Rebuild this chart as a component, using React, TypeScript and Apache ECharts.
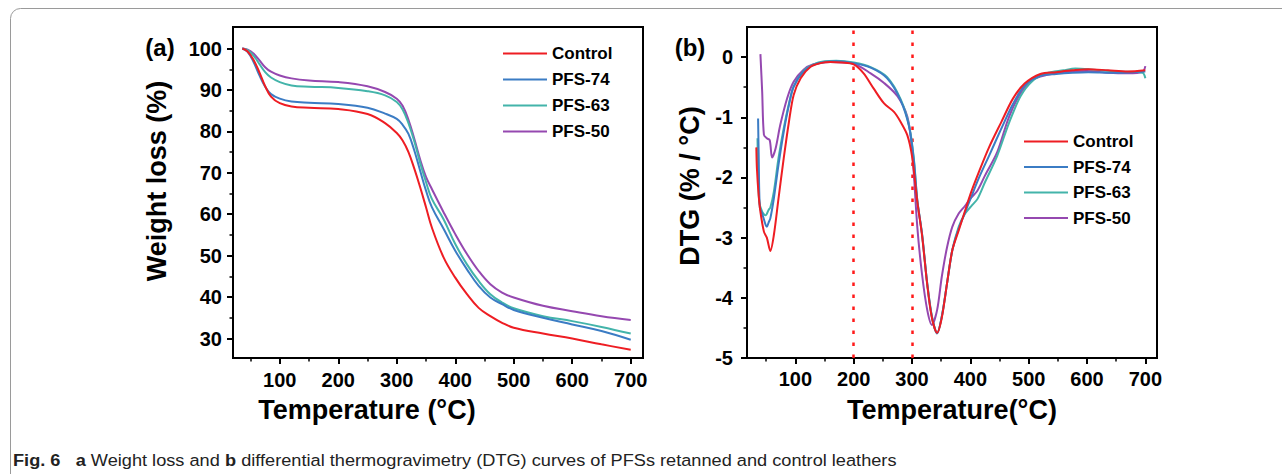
import React, { useEffect, useRef } from 'react';
import * as echarts from 'echarts';

// ---------- data ----------
const seriesNames = ['Control', 'PFS-74', 'PFS-63', 'PFS-50'];
const seriesColors = ['#ee1d23', '#3b7cc4', '#43b4aa', '#9548b0'];

// Panel (a) TGA
const tgaTemps = [36, 45, 55, 65, 75, 85, 100, 120, 150, 200, 250, 280, 300, 310, 320, 330, 340, 350, 360, 380, 400, 420, 440, 460, 480, 500, 550, 600, 650, 700];
const tgaControl = [100, 99.3, 97.3, 94.3, 90.9, 88.4, 86.8, 86.0, 85.7, 85.4, 84.2, 82.0, 79.6, 77.8, 75.0, 71.0, 66.5, 61.7, 56.8, 49.6, 44.7, 40.7, 37.4, 35.4, 33.8, 32.6, 31.2, 30.0, 28.6, 27.3];
const tgaPFS74 = [100, 99.2, 96.8, 93.6, 90.8, 89.0, 87.9, 87.2, 86.9, 86.6, 85.7, 84.3, 83.0, 81.6, 79.4, 75.4, 70.5, 65.7, 61.7, 56.5, 51.2, 46.7, 42.7, 39.9, 38.3, 36.9, 35.0, 33.4, 31.8, 29.7];
const tgaPFS63 = [100, 99.6, 98.3, 96.3, 94.3, 93.0, 91.9, 91.1, 90.8, 90.5, 89.7, 88.7, 87.1, 85.3, 82.0, 77.6, 72.4, 67.8, 63.7, 58.8, 52.8, 47.9, 43.9, 40.7, 38.7, 37.3, 35.4, 34.2, 32.8, 31.2];
const tgaPFS50 = [100, 99.7, 98.8, 97.2, 95.5, 94.4, 93.5, 92.8, 92.3, 91.9, 90.9, 89.5, 87.9, 86.2, 82.8, 78.2, 73.2, 69.0, 66.1, 60.5, 55.2, 50.4, 46.3, 43.1, 41.1, 39.9, 37.9, 36.6, 35.4, 34.5];

// Panel (b) DTG
const dtgControlT = [33, 34, 37, 40, 46, 51, 57, 63, 71, 80, 89, 97, 109, 126, 143, 160, 180, 200, 217, 234, 252, 269, 280, 292, 300, 309, 317, 326, 334, 343, 351, 360, 369, 380, 391, 400, 415, 432, 453, 473, 493, 520, 547, 575, 602, 636, 670, 700];
const dtgControlV = [-1.5, -1.85, -2.3, -2.57, -2.9, -3.0, -3.22, -2.96, -2.35, -1.68, -1.07, -0.63, -0.35, -0.16, -0.1, -0.08, -0.09, -0.12, -0.27, -0.52, -0.77, -0.91, -1.07, -1.3, -1.65, -2.4, -2.95, -3.78, -4.33, -4.58, -4.33, -3.76, -3.21, -2.88, -2.55, -2.28, -1.9, -1.5, -1.08, -0.69, -0.44, -0.28, -0.25, -0.22, -0.2, -0.22, -0.24, -0.22];
const dtgPFS74T = [36, 37, 39, 43, 49, 51, 54, 57, 63, 71, 80, 89, 97, 114, 131, 150, 170, 200, 230, 257, 280, 295, 303, 309, 317, 326, 334, 343, 351, 360, 369, 380, 391, 400, 415, 432, 453, 473, 493, 520, 547, 575, 602, 650, 700];
const dtgPFS74V = [-1.02, -1.6, -2.5, -2.6, -2.79, -2.82, -2.75, -2.68, -2.35, -1.79, -1.24, -0.79, -0.49, -0.24, -0.13, -0.08, -0.07, -0.1, -0.18, -0.35, -0.71, -1.16, -1.71, -2.38, -2.93, -3.76, -4.31, -4.59, -4.31, -3.76, -3.21, -2.85, -2.58, -2.36, -2.0, -1.64, -1.19, -0.78, -0.47, -0.31, -0.28, -0.26, -0.25, -0.26, -0.24];
const dtgPFS63T = [35, 36, 38, 43, 49, 54, 57, 63, 71, 80, 89, 97, 114, 131, 150, 170, 200, 230, 257, 280, 295, 303, 309, 317, 326, 334, 343, 351, 360, 369, 380, 391, 403, 412, 425, 446, 466, 486, 506, 530, 560, 580, 602, 650, 695, 700];
const dtgPFS63V = [-1.35, -1.9, -2.4, -2.57, -2.63, -2.54, -2.5, -2.24, -1.68, -1.18, -0.77, -0.49, -0.23, -0.12, -0.07, -0.06, -0.09, -0.17, -0.33, -0.69, -1.14, -1.68, -2.38, -2.93, -3.76, -4.31, -4.59, -4.31, -3.76, -3.21, -2.82, -2.6, -2.46, -2.36, -2.08, -1.64, -1.1, -0.65, -0.4, -0.27, -0.22, -0.19, -0.2, -0.24, -0.26, -0.35];
const dtgPFS50T = [40, 43, 46, 51, 56, 60, 66, 74, 86, 97, 114, 131, 160, 200, 229, 252, 275, 292, 300, 309, 317, 326, 334, 343, 351, 360, 369, 380, 391, 400, 412, 425, 446, 466, 486, 506, 530, 560, 600, 636, 670, 695, 700];
const dtgPFS50V = [0.05, -0.57, -1.29, -1.35, -1.38, -1.67, -1.52, -1.13, -0.68, -0.41, -0.21, -0.12, -0.08, -0.11, -0.27, -0.43, -0.65, -0.99, -1.54, -2.82, -3.6, -4.2, -4.45, -4.2, -3.65, -3.16, -2.82, -2.6, -2.47, -2.35, -2.22, -1.97, -1.58, -1.0, -0.6, -0.38, -0.3, -0.25, -0.23, -0.26, -0.27, -0.25, -0.15];

const dividerTemps = [200, 300];

// tick labels
const tempMajorTicks = [100, 200, 300, 400, 500, 600, 700];
const tempMinorTicks = [50, 150, 250, 350, 450, 550, 650];
const weightMajorTicks = [30, 40, 50, 60, 70, 80, 90, 100];
const weightMinorTicks = [35, 45, 55, 65, 75, 85, 95];
const dtgMajorTicks = [-5, -4, -3, -2, -1, 0];
const dtgMinorTicks = [-4.5, -3.5, -2.5, -1.5, -0.5];

// texts
const xTitleA = 'Temperature (°C)';
const xTitleB = 'Temperature(°C)';
const yTitleA = 'Weight loss (%)';
const yTitleB = 'DTG (% / °C)';
const caption = '{b|Fig. 6}   {b|a} Weight loss and {b|b} differential thermogravimetry (DTG) curves of PFSs retanned and control leathers';

const FONT = '"Liberation Sans", Arial, Helvetica, sans-serif';

const tgaValues = [tgaControl, tgaPFS74, tgaPFS63, tgaPFS50];
const dtgTemps = [dtgControlT, dtgPFS74T, dtgPFS63T, dtgPFS50T];
const dtgValues = [dtgControlV, dtgPFS74V, dtgPFS63V, dtgPFS50V];

const labelStyle = { fontSize: 20, fontWeight: 'bold' as const, color: '#000', fontFamily: FONT };

function axisPair(gridIndex: number, dim: 'x' | 'y', min: number, max: number, major: number[], minor: number[], margin: number) {
  const pos = dim === 'x' ? 'bottom' : 'left';
  return [
    {
      type: 'value', gridIndex, min, max, position: pos,
      axisLine: { show: true, onZero: false, lineStyle: { color: '#000', width: 2 } },
      axisTick: { show: true, inside: false, length: 6, customValues: major, lineStyle: { color: '#000', width: 2 } },
      axisLabel: { show: true, margin, customValues: major, ...labelStyle },
      splitLine: { show: false },
      minorTick: { show: false },
    },
    {
      type: 'value', gridIndex, min, max, position: pos,
      axisLine: { show: false, onZero: false },
      axisTick: { show: true, inside: false, length: 3.5, customValues: minor, lineStyle: { color: '#000', width: 1.5 } },
      axisLabel: { show: false },
      splitLine: { show: false },
    },
  ];
}

function buildOption() {
  const series: any[] = [];
  seriesNames.forEach((name, i) => {
    series.push({
      type: 'line', name, xAxisIndex: 0, yAxisIndex: 0,
      data: tgaTemps.map((t, j) => [t, tgaValues[i][j]]),
      showSymbol: false, symbol: 'none', smooth: 0.4,
      lineStyle: { color: seriesColors[i], width: 2 },
      itemStyle: { color: seriesColors[i] },
      z: 10 - i,
    });
  });
  seriesNames.forEach((name, i) => {
    const s: any = {
      type: 'line', name, xAxisIndex: 2, yAxisIndex: 2,
      data: dtgTemps[i].map((t, j) => [t, dtgValues[i][j]]),
      showSymbol: false, symbol: 'none', smooth: 0.3,
      lineStyle: { color: seriesColors[i], width: 2 },
      itemStyle: { color: seriesColors[i] },
      z: 10 - i,
    };
    if (i === 0) {
      s.markLine = {
        silent: true,
        symbol: ['none', 'none'],
        label: { show: false },
        lineStyle: { color: '#ff1a1a', type: [3.5, 8.5], width: 2.5 },
        data: dividerTemps.map((v) => ({ xAxis: v })),
      };
    }
    series.push(s);
  });

  const legendText = { fontSize: 17, fontWeight: 'bold' as const, color: '#000', fontFamily: FONT };

  return {
    animation: false,
    backgroundColor: '#fff',
    grid: [
      { left: 233, top: 27, width: 410, height: 331, show: true, borderColor: '#000', borderWidth: 2, backgroundColor: 'transparent' },
      { left: 747, top: 27, width: 410, height: 331, show: true, borderColor: '#000', borderWidth: 2, backgroundColor: 'transparent' },
    ],
    xAxis: [
      ...axisPair(0, 'x', 20, 721, tempMajorTicks, tempMinorTicks, 12),
      ...axisPair(1, 'x', 17, 720, tempMajorTicks, tempMinorTicks, 11),
    ],
    yAxis: [
      ...axisPair(0, 'y', 25.3, 105.2, weightMajorTicks, weightMinorTicks, 11),
      ...axisPair(1, 'y', -5, 0.5, dtgMajorTicks, dtgMinorTicks, 14),
    ],
    legend: [
      {
        data: seriesNames, orient: 'vertical', left: 503, top: 45,
        itemWidth: 44, itemHeight: 2, itemGap: 9, icon: 'rect',
        selectedMode: false, textStyle: legendText, padding: 0,
      },
      {
        data: seriesNames, orient: 'vertical', left: 1024, top: 133,
        itemWidth: 44, itemHeight: 2, itemGap: 8.5, icon: 'rect',
        selectedMode: false, textStyle: legendText, padding: 0,
      },
    ],
    graphic: [
      {
        type: 'rect', silent: true, z: -10,
        shape: { x: 10.5, y: 8.5, width: 1400, height: 600, r: 10 },
        style: { fill: 'none', stroke: '#9a9a9a', lineWidth: 1 },
      },
      {
        type: 'text', x: 160, y: 47,
        style: { text: '(a)', font: `bold 24px ${FONT}`, fill: '#000', textAlign: 'center', textVerticalAlign: 'middle' },
      },
      {
        type: 'text', x: 690, y: 47,
        style: { text: '(b)', font: `bold 24px ${FONT}`, fill: '#000', textAlign: 'center', textVerticalAlign: 'middle' },
      },
      {
        type: 'text', x: 367, y: 410,
        style: { text: xTitleA, font: `bold 27px ${FONT}`, fill: '#000', textAlign: 'center', textVerticalAlign: 'middle' },
      },
      {
        type: 'text', x: 952, y: 410,
        style: { text: xTitleB, font: `bold 27px ${FONT}`, fill: '#000', textAlign: 'center', textVerticalAlign: 'middle' },
      },
      {
        type: 'text', x: 157, y: 181, rotation: Math.PI / 2,
        style: { text: yTitleA, font: `bold 27px ${FONT}`, fill: '#000', textAlign: 'center', textVerticalAlign: 'middle' },
      },
      {
        type: 'text', x: 690, y: 186, rotation: Math.PI / 2,
        style: { text: yTitleB, font: `bold 27px ${FONT}`, fill: '#000', textAlign: 'center', textVerticalAlign: 'middle' },
      },
      {
        type: 'text', x: 13, y: 460, scaleX: 1.07,
        style: {
          text: caption, font: `17px ${FONT}`, fill: '#222', textAlign: 'left', textVerticalAlign: 'middle',
          rich: { b: { fontWeight: 'bold', fontSize: 17, fontFamily: FONT, fill: '#222' } },
        },
      },
    ],
    series,
  };
}

const App = () => {
  const ref = useRef<HTMLDivElement>(null);
  useEffect(() => {
    document.body.style.margin = '0';
    const chart = echarts.init(ref.current as HTMLDivElement, null, { renderer: 'svg' });
    chart.setOption(buildOption() as any);
    return () => chart.dispose();
  }, []);
  return <div ref={ref} style={{ width: 1282, height: 474 }} />;
};

export default App;
